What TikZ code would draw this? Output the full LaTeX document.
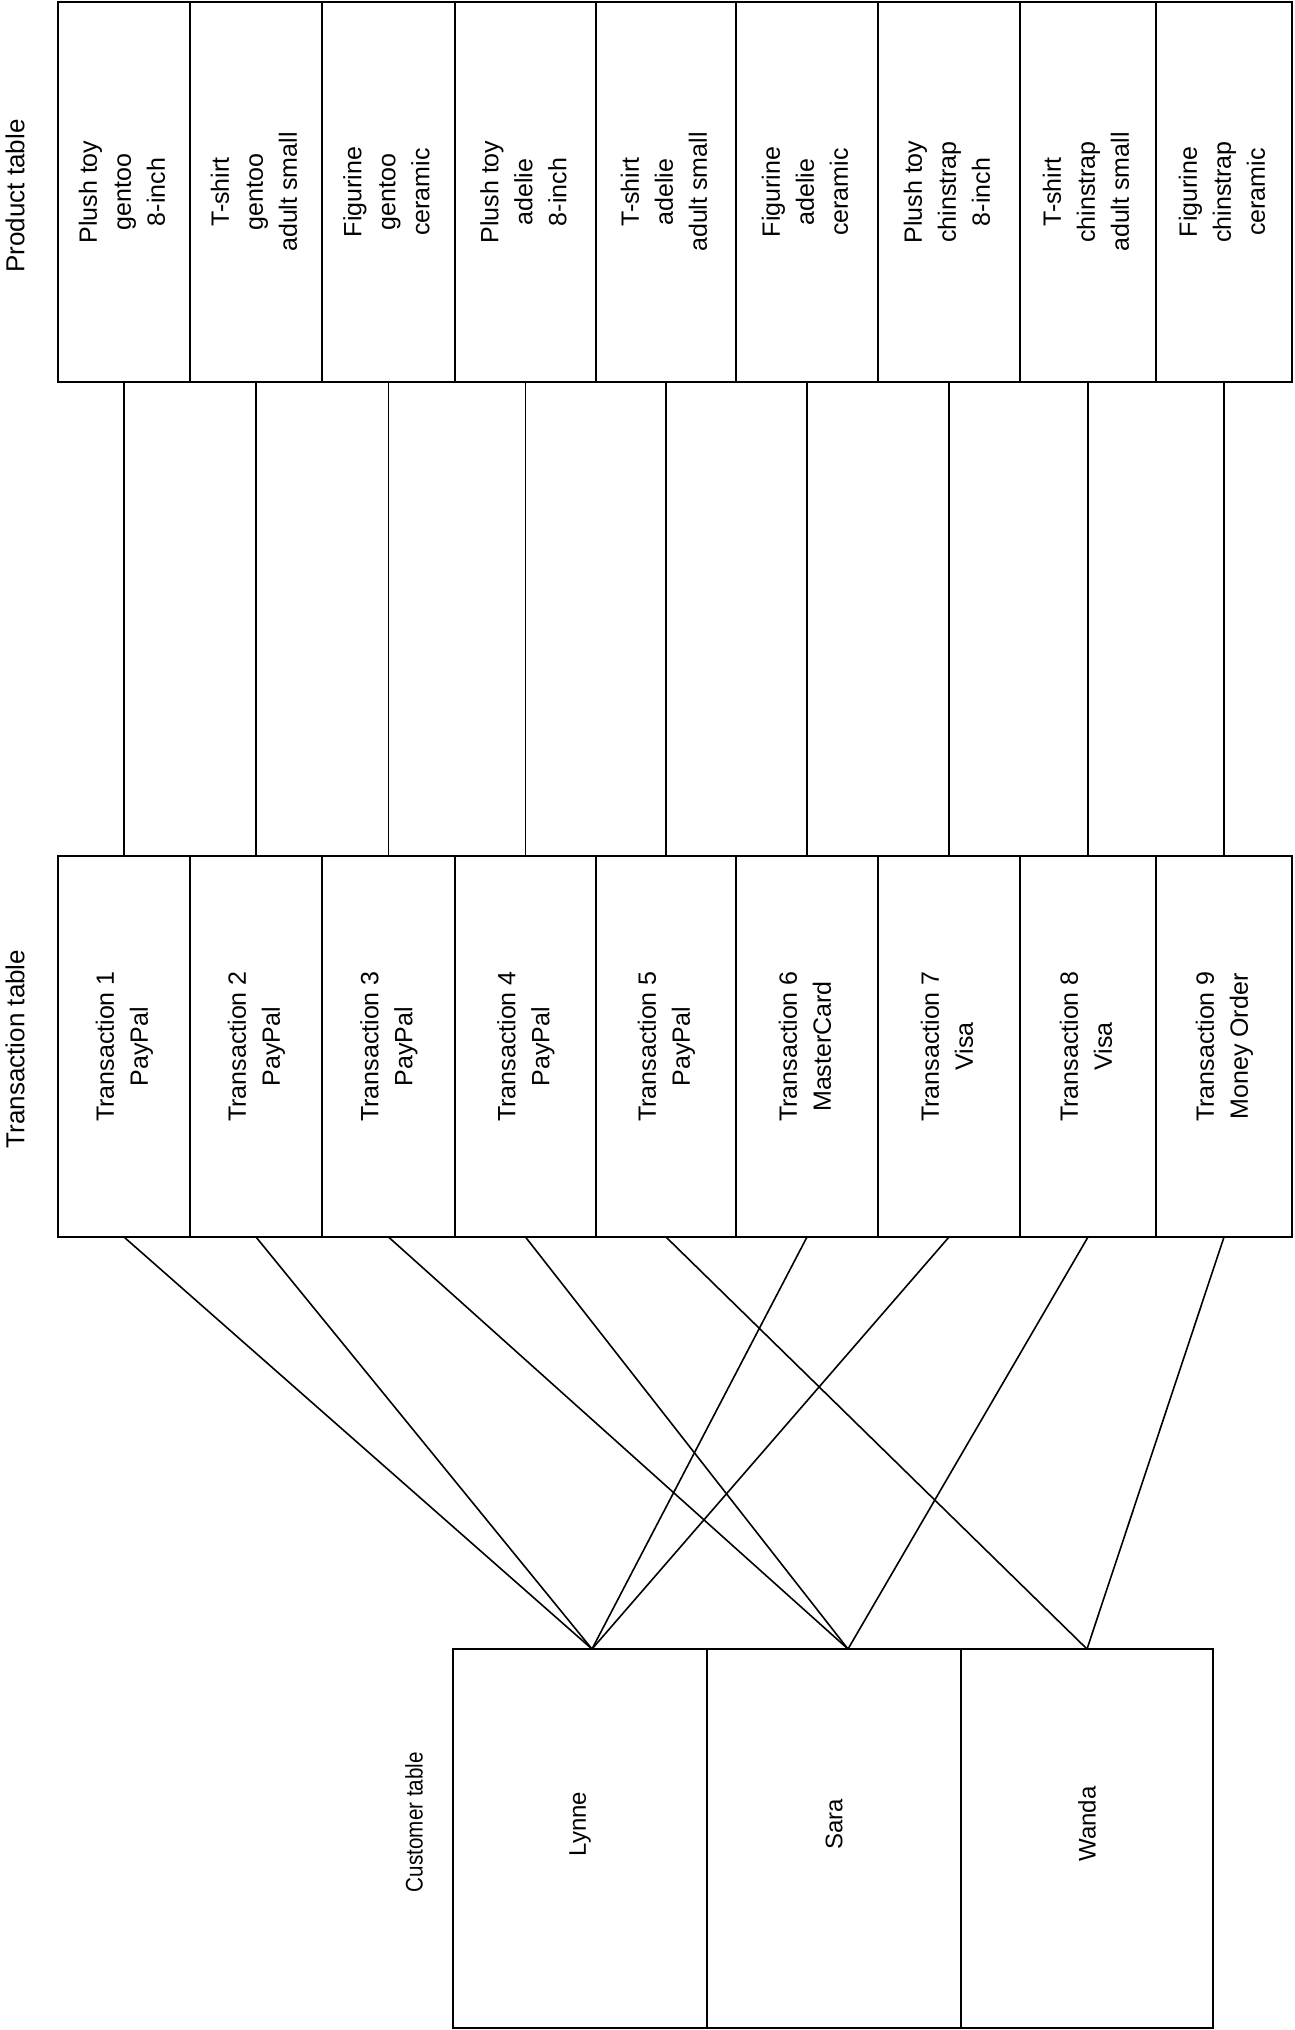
\documentclass[tikz,border=0pt]{standalone}
\usepackage{fontspec}
\setmainfont{Liberation Sans}
\newfontfamily\condfont{Liberation Sans}[FakeStretch=0.86]
\begin{document}
\begin{tikzpicture}[x=1pt,y=-1pt,
  cell/.style={draw, line width=1.8pt, inner sep=0pt, outer sep=0pt, minimum width=#1},
  prodrow/.style={minimum height=380pt},
  transrow/.style={minimum height=381pt},
  custrow/.style={minimum height=379pt},
  celltext/.style={font=\fontsize{25}{34}\selectfont},
  tbllabel/.style={rotate=90, inner sep=0pt, font=\fontsize{26}{31}\selectfont},
  custlabel/.style={rotate=90, inner sep=0pt, font=\condfont\fontsize{24}{30}\selectfont},
  custname/.style={rotate=90, inner sep=0pt, font=\fontsize{24}{30}\selectfont},
  link/.style={line width=1.6pt}]
\useasboundingbox (0,0) rectangle (1295,2030);
\newcommand{\vtext}[1]{\rotatebox{90}{\begin{tabular}{@{}c@{}}#1\end{tabular}}}

% labels
\node[tbllabel] (plabel) at (15,196) {Product table};
\node[tbllabel] (tlabel) at (15,1049) {Transaction table};
\node[custlabel] (clabel) at (414,1822) {Customer table};

% product table (boundaries 58,190,322,455,596,736,878,1020,1156,1292)
\node[cell=132pt, prodrow, celltext] (p1) at (124,192) {\vtext{Plush toy\\gentoo\\8-inch}};
\node[cell=132pt, prodrow, celltext] (p2) at (256,192) {\vtext{T-shirt\\gentoo\\adult small}};
\node[cell=133pt, prodrow, celltext] (p3) at (388.5,192) {\vtext{Figurine\\gentoo\\ceramic}};
\node[cell=141pt, prodrow, celltext] (p4) at (525.5,192) {\vtext{Plush toy\\adelie\\8-inch}};
\node[cell=140pt, prodrow, celltext] (p5) at (666,192) {\vtext{T-shirt\\adelie\\adult small}};
\node[cell=142pt, prodrow, celltext] (p6) at (807,192) {\vtext{Figurine\\adelie\\ceramic}};
\node[cell=142pt, prodrow, celltext] (p7) at (949,192) {\vtext{Plush toy\\chinstrap\\8-inch}};
\node[cell=136pt, prodrow, celltext] (p8) at (1088,192) {\vtext{T-shirt\\chinstrap\\adult small}};
\node[cell=136pt, prodrow, celltext] (p9) at (1224,192) {\vtext{Figurine\\chinstrap\\ceramic}};

% transaction table
\node[cell=132pt, transrow, celltext] (t1) at (124,1046.5) {\vtext{Transaction 1\\PayPal}};
\node[cell=132pt, transrow, celltext] (t2) at (256,1046.5) {\vtext{Transaction 2\\PayPal}};
\node[cell=133pt, transrow, celltext] (t3) at (388.5,1046.5) {\vtext{Transaction 3\\PayPal}};
\node[cell=141pt, transrow, celltext] (t4) at (525.5,1046.5) {\vtext{Transaction 4\\PayPal}};
\node[cell=140pt, transrow, celltext] (t5) at (666,1046.5) {\vtext{Transaction 5\\PayPal}};
\node[cell=142pt, transrow, celltext] (t6) at (807,1046.5) {\vtext{Transaction 6\\MasterCard}};
\node[cell=142pt, transrow, celltext] (t7) at (949,1046.5) {\vtext{Transaction 7\\Visa}};
\node[cell=136pt, transrow, celltext] (t8) at (1088,1046.5) {\vtext{Transaction 8\\Visa}};
\node[cell=136pt, transrow, celltext] (t9) at (1224,1046.5) {\vtext{Transaction 9\\Money Order}};

% customer table (boundaries 453,707,961,1213)
\node[cell=254pt, custrow] (c1) at (580,1838.5) {};
\node[cell=254pt, custrow] (c2) at (834,1838.5) {};
\node[cell=252pt, custrow] (c3) at (1087,1838.5) {};
\node[custname] (n1) at (580,1824) {Lynne};
\node[custname] (n2) at (834,1824) {Sara};
\node[custname] (n3) at (1087,1824) {Wanda};

\coordinate (lynne) at (592,1649);
\coordinate (sara) at (848,1649);
\coordinate (wanda) at (1087,1649);

% product - transaction links
\foreach \i in {1,...,9} {
  \draw[link] (p\i.south) -- (t\i.north);
}

% transaction - customer links
\draw[link] (t1.south) -- (lynne);
\draw[link] (t2.south) -- (lynne);
\draw[link] (t3.south) -- (sara);
\draw[link] (t4.south) -- (sara);
\draw[link] (t5.south) -- (wanda);
\draw[link] (t6.south) -- (lynne);
\draw[link] (t7.south) -- (lynne);
\draw[link] (t8.south) -- (sara);
\draw[link] (t9.south) -- (wanda);
\end{tikzpicture}
\end{document}
